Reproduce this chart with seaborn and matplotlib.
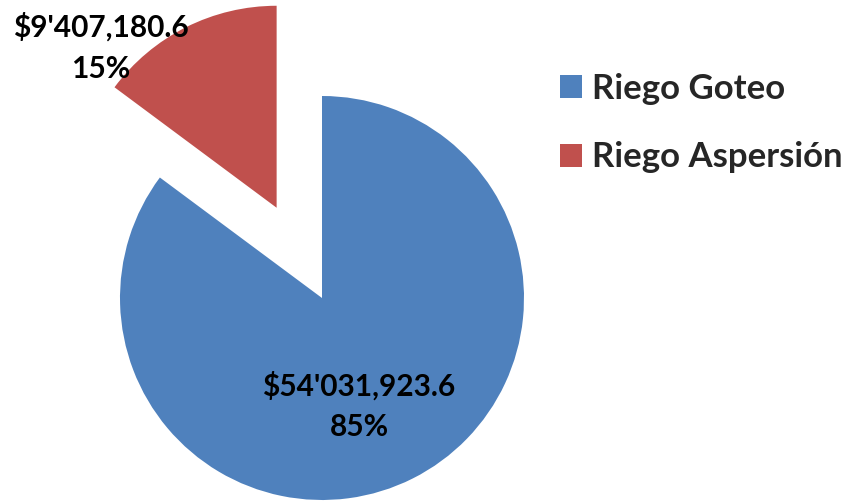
import matplotlib
matplotlib.use("Agg")
import matplotlib.pyplot as plt
import seaborn as sns
from matplotlib.patches import Patch

categories = ["Riego Goteo", "Riego Aspersión"]
values = [54031923.6, 9407180.6]
value_labels = ["$54'031,923.6", "$9'407,180.6"]
pct_labels = ["85%", "15%"]
colors = ["#4F81BD", "#C0504D"]

sns.set_theme(style="white")
plt.rcParams['font.family'] = ['Lato', 'DejaVu Sans']

W, H = 851, 501
fig = plt.figure(figsize=(W / 100, H / 100), dpi=100)
ax = fig.add_axes([0, 0, 1, 1])
R = 202.0
cx, cy = 322.0, 298.0

wedges, _ = ax.pie(values, colors=colors, startangle=90, counterclock=False,
                   explode=[0, 0.5], radius=1.0, wedgeprops=dict(linewidth=0),
                   frame=False)
ax.set_xlim(-cx / R, (W - cx) / R)
ax.set_ylim(-(H - cy) / R, cy / R)
ax.set_aspect('equal')
ax.axis('off')

label_pos = [(0.183, -0.535), (-1.094, 1.24)]
for (x, y), v, p in zip(label_pos, value_labels, pct_labels):
    ax.text(x, y, f"{v}\n{p}", ha='center', va='center', multialignment='center',
            fontsize=21.5, fontweight='bold', color='black', linespacing=1.55)

handles = [Patch(facecolor=c, edgecolor='none', label=l) for c, l in zip(colors, categories)]
fig.legend(handles=handles, loc='upper left', bbox_to_anchor=(560 / W, 1 - 73 / H),
           frameon=False, prop=dict(family='Lato', weight='bold', size=25),
           handlelength=0.63, handleheight=0.63, handletextpad=0.29, labelspacing=1.05,
           borderpad=0, borderaxespad=0)

fig.savefig("out.png", dpi=100)
